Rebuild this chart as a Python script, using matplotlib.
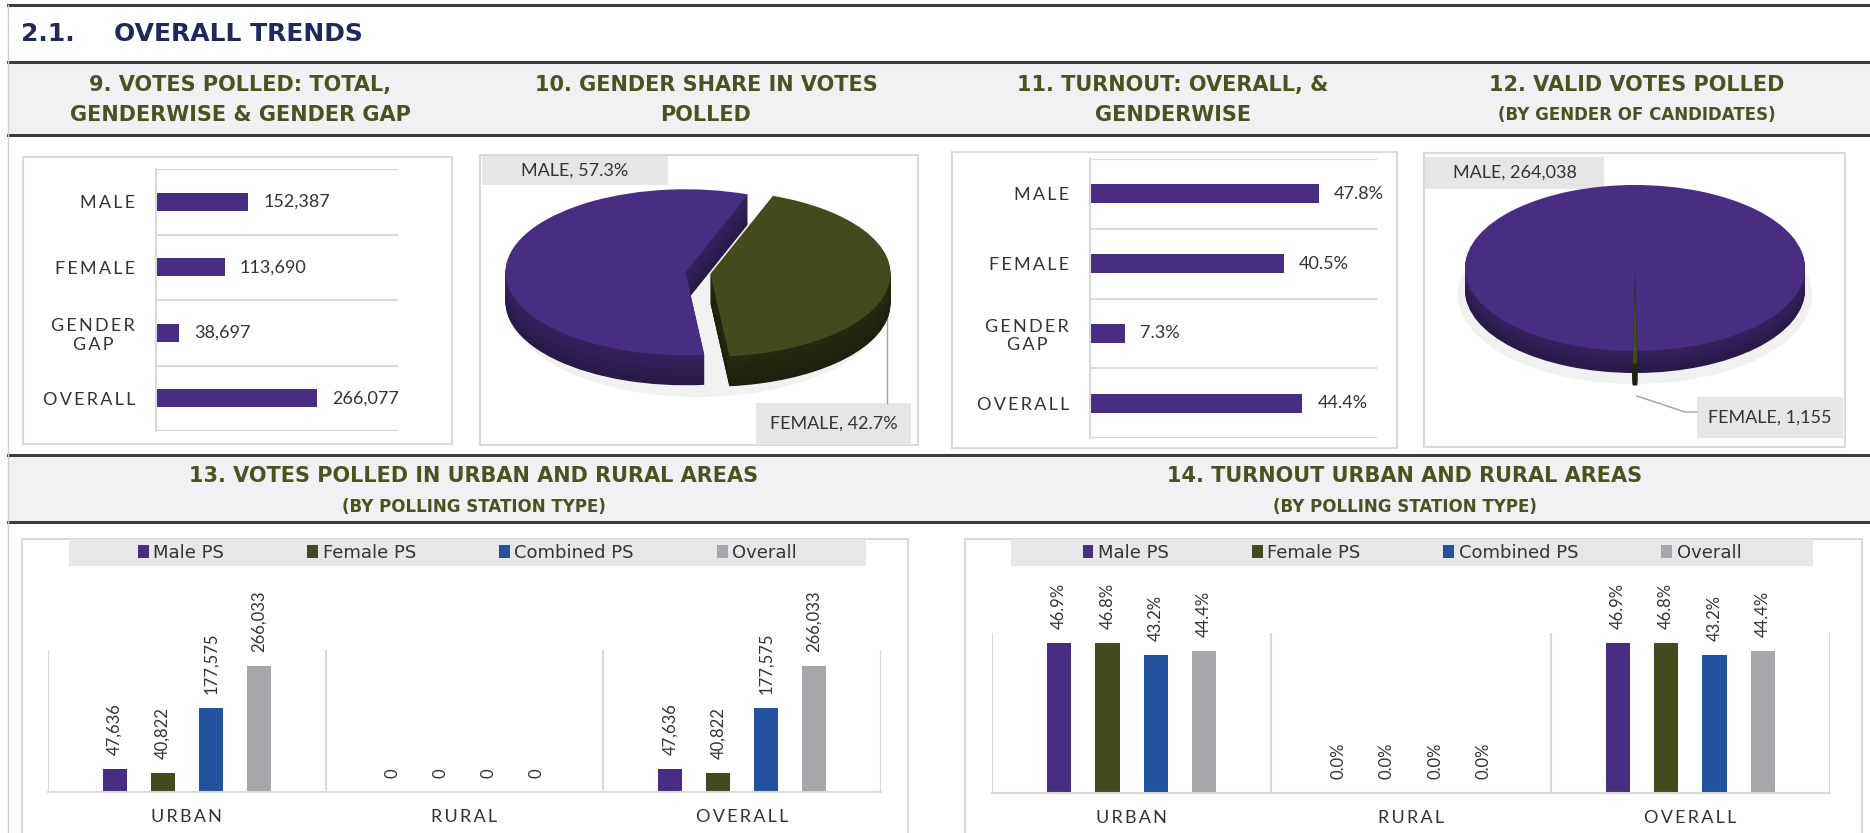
import numpy as np
import matplotlib
matplotlib.use('Agg')
import matplotlib.pyplot as plt
from matplotlib.patches import Rectangle, Ellipse
from matplotlib.transforms import Affine2D

plt.rcParams['font.family'] = ['Lato', 'DejaVu Sans']
NARROW = ['Liberation Sans Narrow', 'DejaVu Sans']

W, H = 1870, 833

# --- data ---
gender_cats = ['MALE', 'FEMALE', 'GENDER\nGAP', 'OVERALL']
votes_polled = [152387, 113690, 38697, 266077]
turnout = [47.8, 40.5, 7.3, 44.4]

pie_labels = ['MALE', 'FEMALE']
gender_share = [57.3, 42.7]
valid_votes = [264038, 1155]

areas = ['URBAN', 'RURAL', 'OVERALL']
ps_types = ['Male PS', 'Female PS', 'Combined PS', 'Overall']
votes_male_ps = [47636, 0, 47636]
votes_female_ps = [40822, 0, 40822]
votes_combined_ps = [177575, 0, 177575]
votes_overall = [266033, 0, 266033]
turnout_male_ps = [46.9, 0.0, 46.9]
turnout_female_ps = [46.8, 0.0, 46.8]
turnout_combined_ps = [43.2, 0.0, 43.2]
turnout_overall = [44.4, 0.0, 44.4]

PURPLE = '#482D82'
OLIVE = '#434A1E'
BLUE = '#23529E'
GREY = '#A6A7AB'
TITLE = '#4A5320'
GRID = '#D9D9D9'
TXT = '#333333'


def px(x0, y0, x1, y1):
    return [x0 / W, 1 - y1 / H, (x1 - x0) / W, (y1 - y0) / H]


def spaced(s):
    return '\n'.join('\u2009'.join(line) for line in s.split('\n'))


fig = plt.figure(figsize=(W / 100, H / 100), dpi=100)
bg = fig.add_axes([0, 0, 1, 1])
bg.set_xlim(0, W)
bg.set_ylim(H, 0)
bg.axis('off')
bg.set_zorder(-1)

# header bands and rules
bg.add_patch(Rectangle((8, 62), W, 73, color='#F0F1F3', lw=0))
bg.add_patch(Rectangle((8, 455), W, 67, color='#F0F1F3', lw=0))
for y in [5, 62, 135, 455, 522]:
    bg.plot([8, W], [y, y], color='#3C3C3C', lw=2.2)
bg.plot([8, 8], [5, H], color='#D0D0D0', lw=1)

bg.text(21, 34, '2.1.', fontsize=18, fontweight='bold', color='#1F2A5C',
        va='center', family=NARROW)
bg.text(114, 34, 'OVERALL TRENDS', fontsize=18, fontweight='bold', color='#1F2A5C',
        va='center', family=NARROW)

titles = [
    (240, 85, '9. VOTES POLLED: TOTAL,', 15), (240, 115, 'GENDERWISE & GENDER GAP', 15),
    (706, 85, '10. GENDER SHARE IN VOTES', 15), (706, 115, 'POLLED', 15),
    (1173, 85, '11. TURNOUT: OVERALL, &', 15), (1173, 115, 'GENDERWISE', 15),
    (1637, 85, '12. VALID VOTES POLLED', 15), (1637, 115, '(BY GENDER OF CANDIDATES)', 12),
    (474, 476, '13. VOTES POLLED IN URBAN AND RURAL AREAS', 15),
    (474, 507, '(BY POLLING STATION TYPE)', 12),
    (1405, 476, '14. TURNOUT URBAN AND RURAL AREAS', 15),
    (1405, 507, '(BY POLLING STATION TYPE)', 12),
]
for x, y, s, fs in titles:
    bg.text(x, y, s, fontsize=fs, fontweight='bold', color=TITLE, ha='center',
            va='center', family=NARROW)

# panel frames
for x0, y0, x1, y1 in [(23, 157, 452, 444), (480, 155, 918, 445), (952, 152, 1397, 448),
                       (1424, 153, 1845, 447), (22, 539, 908, 845), (965, 539, 1862, 845)]:
    bg.add_patch(Rectangle((x0, y0), x1 - x0, y1 - y0, facecolor='white',
                           edgecolor=GRID, lw=1.5))


# --- horizontal bar panels (9, 11) ---
def hbar(rect, values, xmax, fmt):
    ax = fig.add_axes(px(*rect))
    ax.patch.set_alpha(0)
    y = np.arange(len(values))
    ax.barh(y, values, height=0.27, color=PURPLE)
    ax.set_xlim(0, xmax)
    ax.set_ylim(len(values) - 0.5, -0.5)
    for b in np.arange(len(values) + 1) - 0.5:
        ax.axhline(b, color=GRID, lw=1.5)
    for s in ['top', 'right', 'bottom']:
        ax.spines[s].set_visible(False)
    ax.spines['left'].set_color(GRID)
    ax.spines['left'].set_linewidth(1.5)
    ax.set_xticks([])
    ax.set_yticks(y, [spaced(c) for c in gender_cats], fontsize=13, color=TXT)
    for t in ax.get_yticklabels():
        t.set_multialignment('center')
    ax.tick_params(axis='y', length=0, pad=15)
    for i, v in enumerate(values):
        ax.annotate(fmt(v), (v, i), xytext=(15, 0), textcoords='offset pixels',
                    va='center', fontsize=13, color=TXT)
    return ax


hbar((156, 169, 398, 431), votes_polled, 400000, lambda v: f'{v:,}')
hbar((1090, 159, 1377, 438), turnout, 60, lambda v: f'{v:.1f}%')


# --- 3D-looking pies (10, 12) ---
def pie3d(rect, values, tops, sides, cx, cy, rx, ry, depth, start, explode):
    x0, y0, x1, y1 = rect
    ax = fig.add_axes(px(*rect))
    ax.patch.set_alpha(0)
    bg.add_patch(Ellipse((cx, cy + depth + 5), 2 * rx + 14, 2 * ry + 12,
                         color='#F1F1F1', lw=0))
    layers = np.arange(depth, 0, -1)
    for k in layers:
        f = 0.75 + 0.25 * (1 - k / depth)
        cols = [tuple(np.array(matplotlib.colors.to_rgb(c)) * f) for c in sides]
        wedges, _ = ax.pie(values, colors=cols, startangle=start, counterclock=False,
                           explode=explode, wedgeprops=dict(lw=0))
        for w in wedges:
            w.set_transform(Affine2D().scale(rx, ry).translate(cx, H - cy - k) + ax.transData)
    wedges, _ = ax.pie(values, colors=tops, startangle=start, counterclock=False,
                       explode=explode, wedgeprops=dict(lw=0))
    for w in wedges:
        w.set_transform(Affine2D().scale(rx, ry).translate(cx, H - cy) + ax.transData)
    ax.set_aspect('auto')
    ax.set_xlim(x0, x1)
    ax.set_ylim(H - y1, H - y0)
    ax.axis('off')
    return ax


pie3d((480, 155, 918, 445), gender_share, [PURPLE, OLIVE], ['#35215F', '#262A10'],
      698, 273, 180, 83, 30, -84, [0.07, 0.07])
pie3d((1424, 153, 1845, 447), valid_votes, [PURPLE, OLIVE], ['#35215F', '#262A10'],
      1635, 268, 170, 83, 22, -90.8, [0, 0.15])


def pie_label(x0, y0, x1, y1, s):
    bg.add_patch(Rectangle((x0, y0), x1 - x0, y1 - y0, color='#E6E6E7', lw=0))
    bg.text((x0 + x1) / 2, (y0 + y1) / 2, s, fontsize=13, color=TXT,
            ha='center', va='center')


pie_label(482, 156, 668, 185, f'{pie_labels[0]}, {gender_share[0]:.1f}%')
pie_label(756, 403, 911, 445, f'{pie_labels[1]}, {gender_share[1]:.1f}%')
bg.plot([887, 887], [315, 403], color='#A0A0A0', lw=1)
pie_label(1425, 157, 1604, 189, f'{pie_labels[0]}, {valid_votes[0]:,}')
pie_label(1697, 397, 1843, 438, f'{pie_labels[1]}, {valid_votes[1]:,}')
bg.plot([1637, 1685, 1697], [396, 412, 412], color='#A0A0A0', lw=1)


# --- grouped bar panels (13, 14) ---
def grouped(rect, series, ymax, fmt, band):
    ax = fig.add_axes(px(*rect))
    ax.patch.set_alpha(0)
    x = np.arange(len(areas))
    colors = [PURPLE, OLIVE, BLUE, GREY]
    for j, vals in enumerate(series):
        pos = x + (j - 1.5) * 0.173
        ax.bar(pos, vals, 0.086, color=colors[j], label=ps_types[j])
        for p, v in zip(pos, vals):
            ax.annotate(fmt(v), (p, v), xytext=(0, 14), textcoords='offset pixels',
                        rotation=90, ha='center', va='bottom', fontsize=12,
                        color=TXT, annotation_clip=False)
    ax.set_xlim(-0.5, len(areas) - 0.5)
    ax.set_ylim(0, ymax)
    for b in np.arange(len(areas) + 1) - 0.5:
        ax.axvline(b, color=GRID, lw=1.5)
    for s in ['top', 'right', 'left']:
        ax.spines[s].set_visible(False)
    ax.spines['bottom'].set_color(GRID)
    ax.spines['bottom'].set_linewidth(1.5)
    ax.set_yticks([])
    ax.set_xticks(x, [spaced(a) for a in areas], fontsize=13, color=TXT)
    ax.tick_params(axis='x', length=0, pad=12)
    bx0, by0, bx1, by1 = band
    bg.add_patch(Rectangle((bx0, by0), bx1 - bx0, by1 - by0, color='#E6E7E9', lw=0))
    ax.legend(ncol=4, loc='center', bbox_to_anchor=((bx0 + bx1) / 2 / W, 1 - (by0 + by1) / 2 / H),
              bbox_transform=fig.transFigure, frameon=False, handlelength=0.6,
              handleheight=0.75, handletextpad=0.25, columnspacing=4.6,
              prop=dict(family=NARROW, size=13), labelcolor=TXT)
    return ax


grouped((48, 650, 881, 792),
        [votes_male_ps, votes_female_ps, votes_combined_ps, votes_overall],
        300000, lambda v: f'{v:,}', (69, 539, 866, 566))
grouped((992, 633, 1830, 793),
        [turnout_male_ps, turnout_female_ps, turnout_combined_ps, turnout_overall],
        50, lambda v: f'{v:.1f}%', (1011, 539, 1813, 566))

fig.savefig('out.png', dpi=100, facecolor='white')
